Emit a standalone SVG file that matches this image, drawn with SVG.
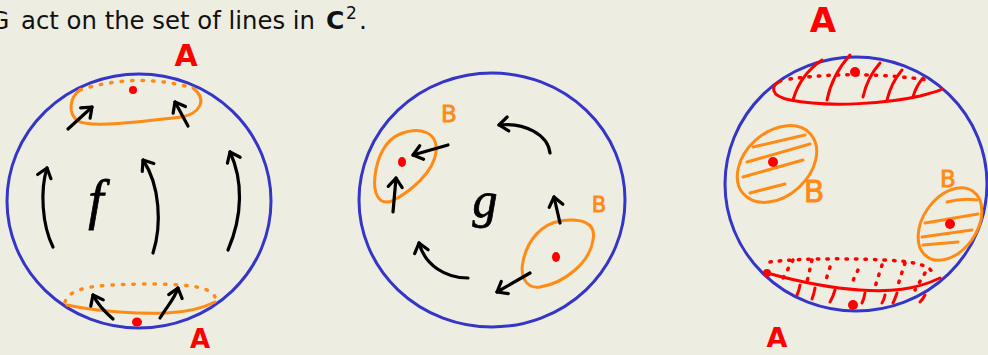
<svg xmlns="http://www.w3.org/2000/svg" width="988" height="355" viewBox="0 0 988 355">
<defs>
<style>
.sph{fill:none;stroke:#3535C8;stroke-width:3}
.or{fill:none;stroke:#FF8A14;stroke-width:3;stroke-linecap:round;stroke-linejoin:round}
.ord{fill:none;stroke:#FF8A14;stroke-width:3.5;stroke-linecap:round;stroke-dasharray:1.5 9}
.rd{fill:none;stroke:#F00;stroke-width:3;stroke-linecap:round;stroke-linejoin:round}
.rdd{fill:none;stroke:#F00;stroke-width:3.5;stroke-linecap:round;stroke-dasharray:1.5 8}
.ar{fill:none;stroke:#000;stroke-width:3.2;stroke-linecap:round;marker-end:url(#ah)}
.dot{fill:#F00}
.la{font-family:"DejaVu Sans",sans-serif;font-weight:bold;fill:#F00;text-anchor:middle}
.lb{font-family:"DejaVu Sans",sans-serif;fill:#FF8A14;stroke:#FF8A14;stroke-width:0.8;text-anchor:middle}
.it{font-family:"Liberation Serif",serif;font-style:italic;fill:#000;stroke:#000;stroke-width:0.8;text-anchor:middle}
</style>
<marker id="ah" markerUnits="userSpaceOnUse" markerWidth="24" markerHeight="24" viewBox="-12 -12 24 24" refX="0" refY="0" orient="auto">
<path d="M-9,-7 L0,0 L-9,7" fill="none" stroke="#000" stroke-width="3.2" stroke-linecap="round" stroke-linejoin="round"/>
</marker>
</defs>
<rect width="988" height="355" fill="#EEEDE2"/>
<g id="title" font-family="DejaVu Sans, sans-serif" fill="#111">
<text x="-10" y="29" font-size="25">G</text>
<text x="21" y="29" font-size="25" textLength="294" lengthAdjust="spacingAndGlyphs">act on the set of lines in</text>
<text x="326" y="29" font-size="25" font-weight="bold">C</text>
<text x="346" y="19" font-size="17">2</text>
<text x="359" y="29" font-size="25">.</text>
</g>

<g id="panel-f">
<ellipse class="sph" cx="139" cy="201" rx="132" ry="127"/>
<path class="or" d="M80,90 C70,97 67,113 78,121 C90,128 140,122 182,117 C200,113 208,100 193,88"/>
<path class="ord" d="M80,90 Q136,72 193,88"/>
<circle class="dot" cx="133" cy="90" r="4"/>
<path class="or" d="M67,305 C100,312 140,314 167,313 C190,312 205,307 215,302"/>
<path class="ord" d="M65,302 C70,286 100,285 140,284 C180,284 210,285 215,297"/>
<ellipse class="dot" cx="137" cy="322" rx="5" ry="4.5"/>
<text class="la" x="186" y="66" font-size="30">A</text>
<text class="la" x="200" y="348" font-size="26">A</text>
<text class="it" x="96" y="218" font-size="55">f</text>
</g>

<g id="panel-g">
<ellipse class="sph" cx="492" cy="200" rx="133" ry="127"/>
<path class="or" d="M400,134 C420,126 438,132 436,152 C434,172 410,192 392,201 C378,206 373,192 375,176 C377,158 385,140 400,134 Z"/>
<ellipse class="dot" cx="402" cy="162" rx="4" ry="5"/>
<path class="or" d="M560,221 C580,218 597,222 593,240 C590,262 565,283 540,287 C525,289 520,275 523,262 C527,240 542,224 560,221 Z"/>
<ellipse class="dot" cx="556" cy="257" rx="4" ry="5"/>
<text class="lb" x="449" y="122" font-size="23">B</text>
<text class="lb" x="599" y="212" font-size="21">B</text>
<text class="it" x="485" y="217" font-size="50">g</text>
</g>

<g id="panel-AB">
<ellipse class="sph" cx="856" cy="184" rx="131" ry="127"/>
<path class="rd" d="M781,81 C770,86 770,96 790,100 C830,108 890,103 920,96 C935,92 942,90 942,89"/>
<path class="rdd" d="M790,79 Q856,70 928,80"/>
<path class="rd" d="M793,100 Q800,75 822,60 M827,100 Q832,75 850,55 M863,97 Q867,78 880,63 M887,100 Q891,83 902,70 M913,97 Q916,86 923,78"/>
<circle class="dot" cx="855" cy="72" r="5"/>
<path class="rd" d="M767,273 C800,282 830,288 860,290 C890,292 915,290 940,278"/>
<path class="rdd" d="M770,262 C800,258 860,258 900,261 C920,263 930,267 932,272"/>
<path class="rdd" d="M793,260 L783,278 M812,260 L807,282 M830,267 L825,283 M858,270 L850,287 M882,265 L875,287 M905,263 L897,288 M925,273 L915,290"/>
<path class="rd" d="M800,285 Q799,291 797,295 M815,288 Q814,294 812,299 M835,290 Q833,297 830,302 M865,293 Q864,299 862,303 M885,295 Q884,300 882,303 M897,293 Q895,299 893,303 M925,295 Q923,299 920,302"/>
<circle class="dot" cx="767" cy="273" r="4"/>
<circle class="dot" cx="853" cy="305" r="5"/>
<ellipse class="or" cx="777" cy="164" rx="45" ry="32" transform="rotate(-42 777 164)"/>
<path class="or" d="M753,147 L805,135 M747,162 L810,144 M743,177 L803,160 M750,193 L785,184"/>
<circle class="dot" cx="773" cy="162" r="5"/>
<ellipse class="or" cx="950" cy="224" rx="40" ry="27" transform="rotate(-55 950 224)"/>
<path class="or" d="M947,202 Q962,198 977,200 M925,223 L978,214 M922,237 L972,230 M923,245 L958,242"/>
<circle class="dot" cx="950" cy="224" r="5"/>
<text class="la" x="823" y="32" font-size="34">A</text>
<text class="la" x="777" y="347" font-size="27">A</text>
<text class="lb" x="814" y="202" font-size="30">B</text>
<text class="lb" x="948" y="187" font-size="23">B</text>
</g>

<g id="connectors">
<path class="ar" d="M68,129 L92,107"/>
<path class="ar" d="M188,126 L175,102"/>
<path class="ar" d="M53,247 C42,225 40,190 47,168"/>
<path class="ar" d="M153,253 C162,225 160,185 143,160"/>
<path class="ar" d="M228,250 C243,215 243,180 230,152"/>
<path class="ar" d="M113,319 C105,312 98,305 93,295"/>
<path class="ar" d="M160,318 C168,305 175,298 178,288"/>
<path class="ar" d="M448,145 L413,155"/>
<path class="ar" d="M393,212 L396,178"/>
<path class="ar" d="M550,153 C548,135 525,122 499,125"/>
<path class="ar" d="M560,223 L554,197"/>
<path class="ar" d="M530,273 L497,292"/>
<path class="ar" d="M468,278 C445,278 425,265 419,243"/>
</g>
</svg>
